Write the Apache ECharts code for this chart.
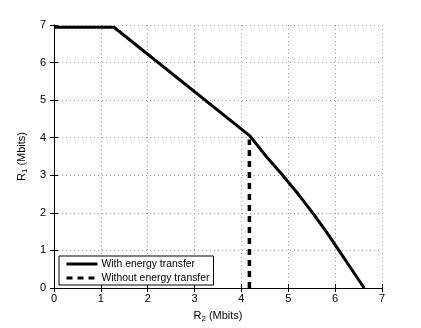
<!DOCTYPE html>
<html>
<head>
<meta charset="utf-8">
<script src="https://cdn.jsdelivr.net/npm/echarts@6/dist/echarts.min.js"></script>
<style>
  html, body { margin: 0; padding: 0; background: #fff; }
  #chart { width: 421px; height: 328px; }
</style>
</head>
<body>
<div id="chart"></div>
<script>
// region boundary
const withTransferR2 = [0, 1.28, 4.18, 4.53, 4.88, 5.21, 5.52, 5.81, 6.08, 6.35, 6.62];
const withTransferR1 = [6.94, 6.94, 4.05, 3.5, 3.0, 2.5, 2.0, 1.5, 1.0, 0.5, 0];
const withoutTransferR2 = [4.17, 4.17];
const withoutTransferR1 = [0, 3.95];
const axisTicks = [0, 1, 2, 3, 4, 5, 6, 7];

const font = "Liberation Sans, Arial, sans-serif";

function pairs(xs, ys) {
    return xs.map((x, i) => [x, ys[i]]);
}

const chart = echarts.init(document.getElementById("chart"));

const baseAxis = {
    min: axisTicks[0],
    max: axisTicks[axisTicks.length - 1],
    interval: 1,
    axisLine: { show: true, lineStyle: { color: "#000", width: 1 } },
    axisTick: { show: true, inside: true, length: 4, lineStyle: { color: "#000" } },
    axisLabel: { color: "#000", fontFamily: font, fontSize: 11 },
    splitLine: { show: true, lineStyle: { color: "#999", type: [1, 3], width: 1 } }
};

const subRich = {
    r: { fontFamily: font, fontSize: 11, color: "#000" },
    s: { fontFamily: font, fontSize: 8, color: "#000", verticalAlign: "bottom", padding: [6, 0, 0, 0] }
};

const option = {
    animation: false,
    backgroundColor: "#fff",
    grid: { left: 54, right: 39, top: 25, bottom: 36, containLabel: false },
    xAxis: [
        Object.assign({}, baseAxis, {
            type: "value",
            position: "bottom",
            name: "{r|R}{s|2}{r| (Mbits)}",
            nameLocation: "middle",
            nameGap: 21,
            nameTextStyle: { rich: subRich },
            axisLabel: { color: "#000", fontFamily: font, fontSize: 11, margin: 5 }
        }),
        Object.assign({}, baseAxis, {
            type: "value",
            position: "top",
            axisLabel: { show: false },
            splitLine: { show: false }
        })
    ],
    yAxis: [
        Object.assign({}, baseAxis, {
            type: "value",
            position: "left",
            name: "{r|R}{s|1}{r| (Mbits)}",
            nameLocation: "middle",
            nameGap: 22,
            nameRotate: 90,
            nameTextStyle: { rich: subRich },
            axisLabel: { color: "#000", fontFamily: font, fontSize: 11, margin: 8 }
        }),
        Object.assign({}, baseAxis, {
            type: "value",
            position: "right",
            axisLabel: { show: false },
            splitLine: { show: false }
        })
    ],
    legend: {
        orient: "vertical",
        left: 59,
        top: 256,
        itemWidth: 31,
        itemHeight: 10,
        itemGap: 4,
        padding: [3, 4, 2, 6],
        borderColor: "#000",
        borderWidth: 1,
        backgroundColor: "#fff",
        itemStyle: { opacity: 0, color: "rgba(0,0,0,0)", borderWidth: 0 },
        lineStyle: { width: 3 },
        textStyle: { fontFamily: font, fontSize: 10.4, color: "#000", padding: [0, 0, 0, -1] },
        data: ["With energy transfer", "Without energy transfer"]
    },
    series: [
        {
            name: "With energy transfer",
            type: "line",
            data: pairs(withTransferR2, withTransferR1),
            symbol: "none",
            lineStyle: { color: "#000", width: 3 },
            itemStyle: { color: "#000" },
            z: 3
        },
        {
            name: "Without energy transfer",
            type: "line",
            data: pairs(withoutTransferR2, withoutTransferR1),
            symbol: "none",
            lineStyle: { color: "#000", width: 3.5, type: [6, 5] },
            itemStyle: { color: "#000" },
            z: 3
        }
    ]
};

chart.setOption(option);
</script>
</body>
</html>
